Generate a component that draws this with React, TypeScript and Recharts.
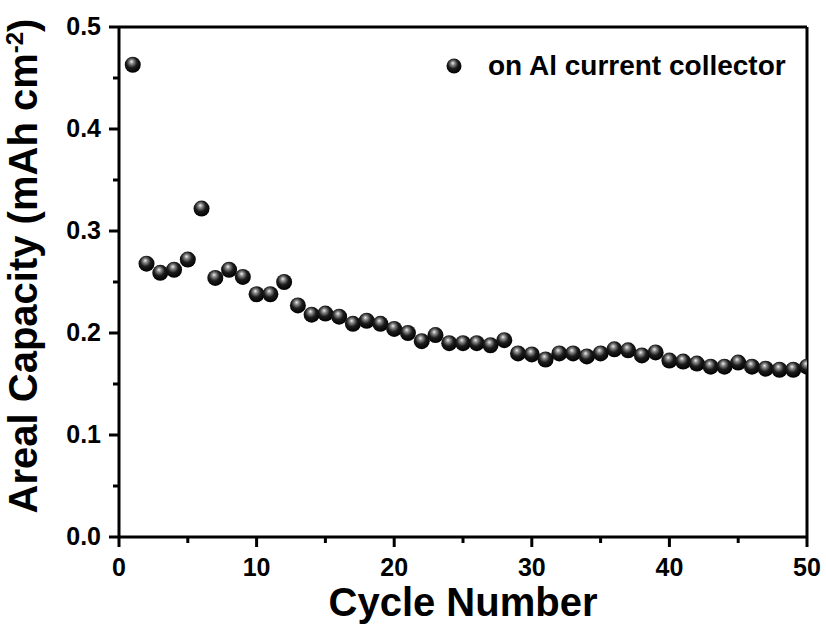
import { ReferenceLine, Legend, Scatter, ScatterChart, XAxis, YAxis } from "recharts"

// cycle numbers 1..50 and areal capacity (mAh cm-2)
const cycles = [
  1, 2, 3, 4, 5, 6, 7, 8, 9, 10, 11, 12, 13, 14, 15, 16, 17, 18, 19, 20, 21, 22, 23, 24, 25,
  26, 27, 28, 29, 30, 31, 32, 33, 34, 35, 36, 37, 38, 39, 40, 41, 42, 43, 44, 45, 46, 47, 48, 49, 50,
]
const capacity = [
  0.463, 0.268, 0.259, 0.262, 0.272, 0.322, 0.254, 0.262, 0.255, 0.238, 0.238, 0.25, 0.227, 0.218,
  0.219, 0.216, 0.209, 0.212, 0.209, 0.204, 0.2, 0.192, 0.198, 0.19, 0.19, 0.19, 0.188, 0.193, 0.18,
  0.179, 0.174, 0.18, 0.18, 0.177, 0.18, 0.184, 0.183, 0.178, 0.181, 0.173, 0.172, 0.17, 0.167,
  0.167, 0.171, 0.167, 0.165, 0.164, 0.164, 0.167,
]
const xTicks = [0, 5, 10, 15, 20, 25, 30, 35, 40, 45, 50]
const yTicks = [0, 0.05, 0.1, 0.15, 0.2, 0.25, 0.3, 0.35, 0.4, 0.45, 0.5]
const SERIES_NAME = "on Al current collector"

const points = cycles.map((c, i) => ({ cycle: c, cap: capacity[i] }))

const FONT = "'Liberation Sans', Arial, Helvetica, sans-serif"

const SphereDefs = () => (
  <defs>
    <radialGradient id="sphere" cx="0.45" cy="0.4" r="0.6" fx="0.42" fy="0.3">
      <stop offset="0" stopColor="#f0f0f0" />
      <stop offset="0.22" stopColor="#8a8a8a" />
      <stop offset="0.55" stopColor="#1c1c1c" />
      <stop offset="1" stopColor="#000" />
    </radialGradient>
  </defs>
)

const Sphere = (props: any) => {
  const { cx, cy } = props
  if (cx == null || cy == null) return null
  return (
    <g>
      <SphereDefs />
      <circle cx={cx} cy={cy} r={8} fill="url(#sphere)" />
    </g>
  )
}

const XTick = (props: any) => {
  const { x, y, payload } = props
  const major = payload.value % 10 === 0
  return (
    <g>
      <line x1={x} y1={y} x2={x} y2={y + (major ? 10 : 6)} stroke="#000" strokeWidth={3} />
      {major ? (
        <text x={x} y={y + 39} textAnchor="middle" fontFamily={FONT} fontWeight="bold" fontSize={25} fill="#000">
          {payload.value}
        </text>
      ) : null}
    </g>
  )
}

const YTick = (props: any) => {
  const { x, y, payload } = props
  const major = Math.round(payload.value * 100) % 10 === 0
  return (
    <g>
      <line x1={x} y1={y} x2={x - (major ? 10 : 6)} y2={y} stroke="#000" strokeWidth={3} />
      {major ? (
        <text x={x - 18} y={y + 8} textAnchor="end" fontFamily={FONT} fontWeight="bold" fontSize={25} fill="#000">
          {payload.value.toFixed(1)}
        </text>
      ) : null}
    </g>
  )
}

const YLabel = (props: any) => {
  const vb = props.viewBox || { x: 0, y: 27, width: 119, height: 510 }
  const cx = 37
  const cy = vb.y + vb.height / 2 - 16
  return (
    <text
      x={cx}
      y={cy}
      transform={`rotate(-90, ${cx}, ${cy})`}
      textAnchor="middle"
      fontFamily={FONT}
      fontWeight="bold"
      fontSize={40}
      fill="#000"
    >
      Areal Capacity (mAh cm
      <tspan dy={-14} fontSize={24}>-2</tspan>
      <tspan dy={14}>)</tspan>
    </text>
  )
}

const LegendContent = () => (
  <div style={{ display: "flex", alignItems: "center", fontFamily: FONT, fontWeight: "bold", fontSize: 28, color: "#000" }}>
    <svg width={16} height={16} style={{ marginRight: 26 }}>
      <SphereDefs />
      <circle cx={8} cy={8} r={7.5} fill="url(#sphere)" />
    </svg>
    <span>{SERIES_NAME}</span>
  </div>
)

export default function App() {
  return (
    <div style={{ position: "absolute", left: 0, top: 0, width: 826, height: 626, background: "#fff" }}>
      <ScatterChart width={826} height={626} margin={{ top: 27, right: 19, left: 0, bottom: 0 }}>
        <XAxis
          type="number"
          dataKey="cycle"
          domain={[0, 50]}
          ticks={xTicks}
          interval={0}
          allowDataOverflow
          height={89}
          tickSize={0}
          tickMargin={0}
          tick={<XTick />}
          axisLine={{ stroke: "#000", strokeWidth: 3 }}
          label={{
            value: "Cycle Number",
            position: "insideBottom",
            offset: 10,
            fontFamily: FONT,
            fontWeight: "bold",
            fontSize: 40,
            fill: "#000",
          }}
        />
        <YAxis
          type="number"
          dataKey="cap"
          domain={[0, 0.5]}
          ticks={yTicks}
          interval={0}
          width={119}
          tickSize={0}
          tickMargin={0}
          tick={<YTick />}
          axisLine={{ stroke: "#000", strokeWidth: 3 }}
          label={<YLabel />}
        />
        <ReferenceLine y={0.5} stroke="#000" strokeWidth={3} />
        <ReferenceLine x={50} stroke="#000" strokeWidth={3} />
        <Legend
          layout="horizontal"
          verticalAlign="middle"
          align="center"
          wrapperStyle={{ top: 50, left: 446, width: "auto" }}
          content={<LegendContent />}
        />
        <Scatter name={SERIES_NAME} data={points} shape={<Sphere />} isAnimationActive={false} />
      </ScatterChart>
    </div>
  )
}
